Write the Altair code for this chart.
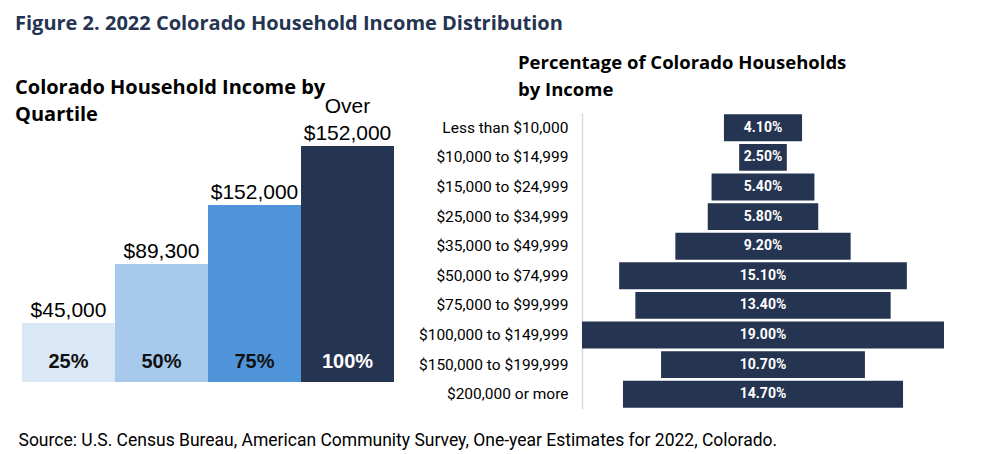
import altair as alt
import pandas as pd

# ---------------- data ----------------
quartiles = ["25%", "50%", "75%", "100%"]
quartile_values = [25, 50, 75, 100]
quartile_labels = ["$45,000", "$89,300", "$152,000", "$152,000"]
quartile_prefix = ["", "", "", "Over"]
quartile_colors = ["#dae8f6", "#a6c9ec", "#4f94d8", "#253451"]

income_brackets = [
    "Less than $10,000",
    "$10,000 to $14,999",
    "$15,000 to $24,999",
    "$25,000 to $34,999",
    "$35,000 to $49,999",
    "$50,000 to $74,999",
    "$75,000 to $99,999",
    "$100,000 to $149,999",
    "$150,000 to $199,999",
    "$200,000 or more",
]
income_pct = [4.1, 2.5, 5.4, 5.8, 9.2, 15.1, 13.4, 19.0, 10.7, 14.7]

MAIN_TITLE = "Figure 2. 2022 Colorado Household Income Distribution"
LEFT_TITLE = ["Colorado Household Income by", "Quartile"]
RIGHT_TITLE = ["Percentage of Colorado Households", "by Income"]
SOURCE = "Source: U.S. Census Bureau, American Community Survey, One-year Estimates for 2022, Colorado."

NAVY = "#253451"
FONT = "Roboto"
TFONT = "Open Sans"
VFONT = "Liberation Sans"

# ---------------- left chart ----------------
left_df = pd.DataFrame({
    "quartile": quartiles, "value": quartile_values,
    "label": quartile_labels, "prefix": quartile_prefix,
})

x_left = alt.X(
    "quartile:N",
    sort=quartiles,
    scale=alt.Scale(paddingInner=0, paddingOuter=0),
    axis=alt.Axis(
        labels=False, ticks=False, domain=False, grid=False,
        title=SOURCE, titleX=-4, titleY=63, titleAlign="left",
        titleBaseline="alphabetic", titleFont=FONT, titleFontSize=17.5,
        titleFontWeight="normal", titleColor="#000000",
    ),
)
base_l = alt.Chart(left_df).encode(x=x_left)

bars_l = base_l.mark_bar().encode(
    y=alt.Y("value:Q", scale=alt.Scale(domain=[0, 114], nice=False), axis=None),
    color=alt.Color("quartile:N", scale=alt.Scale(domain=quartiles, range=quartile_colors), legend=None),
)
vals_l = base_l.mark_text(
    baseline="bottom", dy=-2, fontSize=21, font=VFONT, color="#000000"
).encode(y="value:Q", text="label:N")
prefix_l = base_l.mark_text(
    baseline="bottom", dy=-29, fontSize=21, font=VFONT, color="#000000"
).encode(y="value:Q", text="prefix:N")
pcts_l = base_l.mark_text(
    baseline="middle", dy=-20, fontSize=20, fontWeight="bold", font=VFONT
).encode(
    y=alt.datum(0),
    text="quartile:N",
    color=alt.when(alt.datum.quartile == "100%").then(alt.value("white")).otherwise(alt.value("#111111")),
)

left = alt.layer(bars_l, vals_l, prefix_l, pcts_l).properties(
    width=372,
    height=269,
    title=alt.TitleParams(
        LEFT_TITLE, anchor="start", frame="group", dx=-7, offset=-29,
        fontSize=20, font=TFONT, fontWeight="bold", color="#000000", lineHeight=27,
    ),
)

# ---------------- right chart ----------------
right_df = pd.DataFrame({"bracket": income_brackets, "pct": income_pct})
base_r = alt.Chart(right_df).transform_calculate(
    lo="-datum.pct/2", hi="datum.pct/2", mid="0",
    label="format(datum.pct, '.2f') + '%'",
)
y_r = alt.Y(
    "bracket:N",
    sort=income_brackets,
    scale=alt.Scale(paddingInner=0.09, paddingOuter=0.045),
    axis=alt.Axis(
        title=None, ticks=False, grid=False, labelPadding=14, labelFontSize=15.5,
        labelFont=FONT, labelColor="#000000", domainColor="#d9d9d9", domainWidth=1.5,
        labelLimit=300,
    ),
)
bars_r = base_r.mark_bar(color=NAVY).encode(
    x=alt.X("lo:Q", scale=alt.Scale(domain=[-9.5, 9.5], nice=False, zero=False), axis=None),
    x2="hi:Q",
    y=y_r,
)
text_r = base_r.mark_text(color="white", fontWeight="bold", fontSize=14, font=FONT).encode(
    x="mid:Q", y=alt.Y("bracket:N", sort=income_brackets), text="label:N"
)
right = alt.layer(bars_r, text_r).properties(
    width=362,
    height=296,
    title=alt.TitleParams(
        RIGHT_TITLE, anchor="start", frame="group", dx=-64, offset=14,
        fontSize=18.5, font=TFONT, fontWeight="bold", color="#000000", lineHeight=27,
    ),
)

chart = alt.hconcat(left, right, spacing=188, bounds="flush").properties(
    title=alt.TitleParams(
        MAIN_TITLE, anchor="start", offset=20,
        fontSize=20, font=TFONT, fontWeight="bold", color=NAVY,
    ),
    padding={"left": 7, "top": 5, "right": 5, "bottom": 5},
    background="white",
).configure_view(stroke=None)

chart.save("out.html", embed_options={"renderer": "svg", "actions": False})
